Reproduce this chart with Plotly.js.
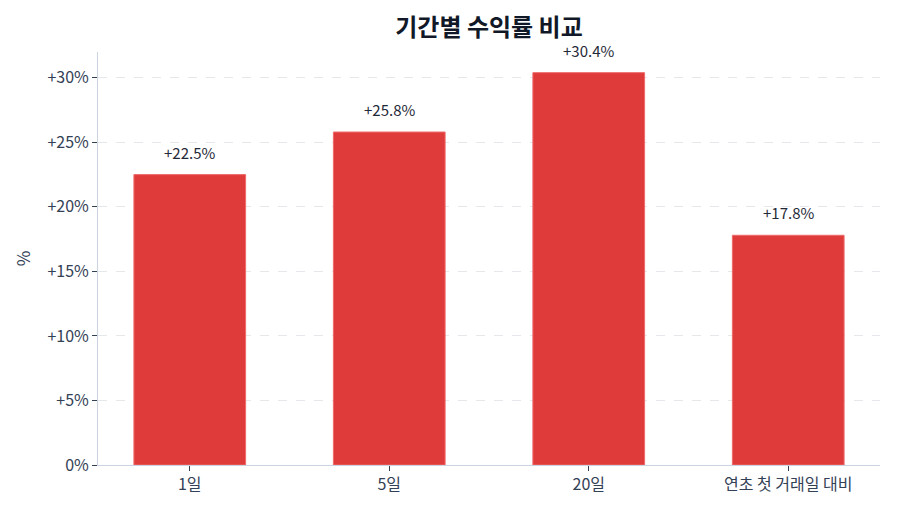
<!DOCTYPE html>
<html>
<head>
<meta charset="utf-8">
<script src="https://cdn.plot.ly/plotly-3.0.1.min.js"></script>
<style>html,body{margin:0;padding:0;background:#fff;}#chart{width:900px;height:514px;}</style>
</head>
<body>
<div id="chart"></div>
<script>
const categories = ['1일', '5일', '20일', '연초 첫 거래일 대비'];
const returns = [22.5, 25.8, 30.4, 17.8];
const labels = ['+22.5%', '+25.8%', '+30.4%', '+17.8%'];
const tickValues = [0, 5, 10, 15, 20, 25, 30];
const tickLabels = ['0%', '+5%', '+10%', '+15%', '+20%', '+25%', '+30%'];

const FONT = '"Noto Sans CJK KR", "Noto Sans", sans-serif';

const annotations = categories.map((c, i) => ({
  x: c, y: returns[i], xref: 'x', yref: 'y',
  text: labels[i], showarrow: false,
  yanchor: 'bottom', yshift: 10,
  font: {family: FONT, size: 15, color: '#1f2937'}
}));

Plotly.newPlot('chart', [{
  type: 'bar',
  x: categories,
  y: returns,
  marker: {color: '#e03b3b', line: {color: '#ef6a6a', width: 1}},
  width: 0.56,
  hoverinfo: 'none'
}], {
  width: 900, height: 514,
  margin: {l: 98, r: 20, t: 52, b: 49},
  paper_bgcolor: '#ffffff',
  plot_bgcolor: '#ffffff',
  font: {family: FONT, size: 14, color: '#334155'},
  title: {text: '<b>기간별 수익률 비교</b>', x: 0.5, xref: 'paper', y: 0.946, yref: 'container', yanchor: 'middle', font: {family: FONT, size: 24, color: '#111827'}},
  showlegend: false,
  annotations: annotations,
  xaxis: {
    type: 'category',
    range: [-0.46, 3.46],
    showline: true, linecolor: '#cbd5e1', linewidth: 1,
    ticks: 'outside', ticklen: 5, tickcolor: '#334155',
    showgrid: false,
    tickfont: {family: FONT, size: 16, color: '#334155'}
  },
  yaxis: {
    range: [0, 32],
    tickvals: tickValues,
    ticktext: tickLabels,
    showline: true, linecolor: '#cbd5e1', linewidth: 1,
    ticks: 'outside', ticklen: 5, tickcolor: '#334155',
    showgrid: true, gridcolor: '#e5e7eb', griddash: 'dash', gridwidth: 1,
    zeroline: false,
    tickfont: {family: FONT, size: 16, color: '#334155'},
    title: {text: '%', standoff: 12, font: {family: FONT, size: 17, color: '#334155'}}
  }
}, {displayModeBar: false, staticPlot: true});
</script>
</body>
</html>
